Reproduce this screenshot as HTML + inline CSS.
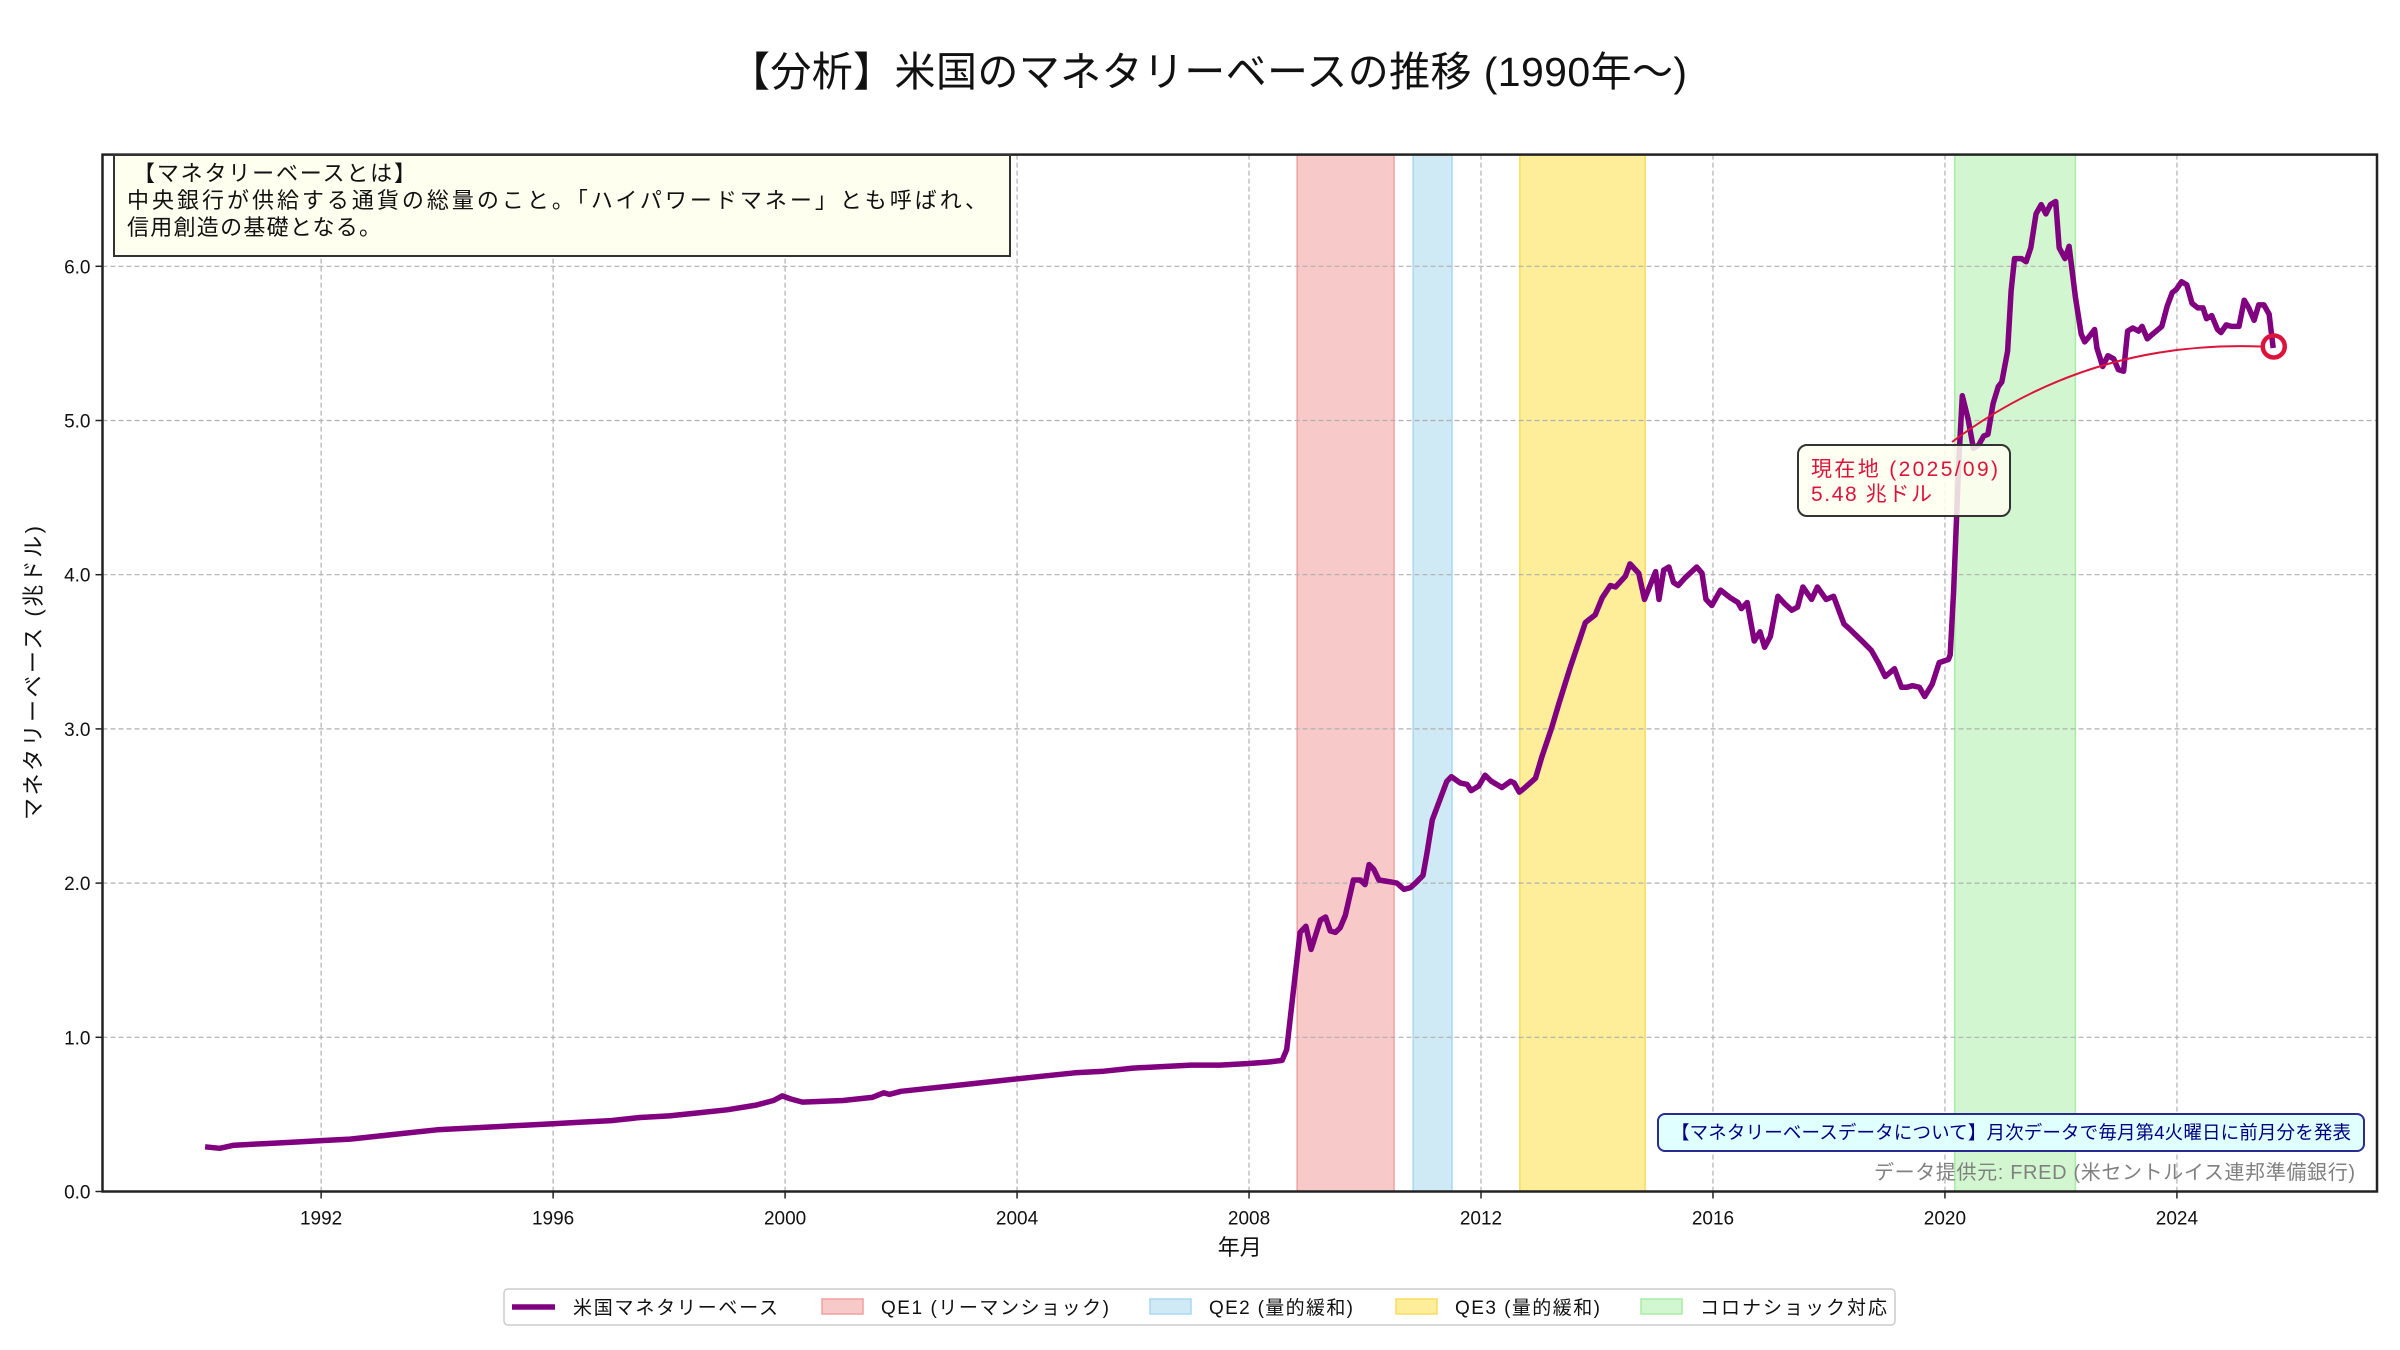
<!DOCTYPE html>
<html lang="ja">
<head>
<meta charset="utf-8">
<style>
html,body{margin:0;padding:0;background:#fff;}
svg{display:block;font-family:"Liberation Sans","Noto Sans CJK JP",sans-serif;}
</style>
</head>
<body>
<svg id="chart" width="2400" height="1350" viewBox="0 0 2400 1350" xmlns="http://www.w3.org/2000/svg">
  <rect x="0" y="0" width="2400" height="1350" fill="#fff"/>
  <text x="1208" y="86" text-anchor="middle" font-size="41" fill="#111" textLength="958">【分析】米国のマネタリーベースの推移 (1990年〜)</text>
  <g id="bands"></g>
  <g id="grid"></g>
  <g id="series"></g>
  <g id="axes"></g>
  <g id="annot"></g>
</svg>
<script>
// ---- data ----
const years = [1990.0,1990.25,1990.5,1991.0,1991.5,1992.0,1992.5,1993.0,1993.5,1994.0,1994.5,1995.0,1995.5,1996.0,1996.5,1997.0,1997.5,1998.0,1998.5,1999.0,1999.5,1999.8,1999.95,2000.1,2000.3,2001.0,2001.5,2001.7,2001.8,2002.0,2002.5,2003.0,2003.5,2004.0,2004.5,2005.0,2005.5,2006.0,2006.5,2007.0,2007.5,2008.0,2008.34,2008.57,2008.65,2008.77,2008.88,2008.98,2009.07,2009.23,2009.32,2009.40,2009.49,2009.57,2009.66,2009.80,2009.92,2010.0,2010.07,2010.15,2010.24,2010.41,2010.55,2010.67,2010.78,2010.87,2011.0,2011.07,2011.16,2011.27,2011.41,2011.49,2011.64,2011.76,2011.83,2011.96,2012.07,2012.18,2012.36,2012.51,2012.57,2012.66,2012.76,2012.94,2013.05,2013.22,2013.34,2013.54,2013.80,2013.97,2014.09,2014.23,2014.32,2014.49,2014.57,2014.72,2014.82,2015.01,2015.07,2015.15,2015.24,2015.32,2015.40,2015.52,2015.72,2015.81,2015.88,2015.98,2016.13,2016.30,2016.43,2016.49,2016.59,2016.71,2016.81,2016.89,2016.99,2017.12,2017.24,2017.36,2017.46,2017.55,2017.70,2017.80,2017.95,2018.08,2018.26,2018.35,2018.57,2018.73,2018.85,2018.97,2019.13,2019.25,2019.34,2019.44,2019.56,2019.65,2019.78,2019.90,2020.06,2020.09,2020.15,2020.24,2020.30,2020.40,2020.49,2020.58,2020.67,2020.74,2020.83,2020.92,2020.98,2021.08,2021.14,2021.20,2021.32,2021.40,2021.48,2021.57,2021.66,2021.74,2021.82,2021.91,2021.97,2022.07,2022.14,2022.25,2022.35,2022.41,2022.50,2022.58,2022.62,2022.72,2022.81,2022.91,2022.99,2023.08,2023.15,2023.24,2023.34,2023.40,2023.49,2023.58,2023.74,2023.83,2023.92,2023.99,2024.08,2024.17,2024.26,2024.36,2024.45,2024.51,2024.60,2024.70,2024.76,2024.85,2024.94,2025.07,2025.16,2025.24,2025.33,2025.41,2025.50,2025.59,2025.66];
const values = [0.29,0.28,0.30,0.31,0.32,0.33,0.34,0.36,0.38,0.40,0.41,0.42,0.43,0.44,0.45,0.46,0.48,0.49,0.51,0.53,0.56,0.59,0.62,0.60,0.58,0.59,0.61,0.64,0.63,0.65,0.67,0.69,0.71,0.73,0.75,0.77,0.78,0.80,0.81,0.82,0.82,0.83,0.84,0.85,0.92,1.32,1.68,1.72,1.57,1.76,1.78,1.69,1.68,1.71,1.79,2.02,2.02,1.99,2.12,2.09,2.02,2.01,2.00,1.96,1.97,2.00,2.05,2.20,2.41,2.52,2.66,2.69,2.65,2.64,2.60,2.63,2.70,2.66,2.62,2.66,2.65,2.59,2.62,2.68,2.82,3.01,3.16,3.40,3.69,3.74,3.85,3.93,3.92,3.99,4.07,4.01,3.84,4.02,3.84,4.03,4.05,3.95,3.93,3.98,4.05,4.01,3.84,3.80,3.90,3.85,3.82,3.78,3.82,3.57,3.63,3.53,3.60,3.86,3.81,3.77,3.79,3.92,3.84,3.92,3.84,3.86,3.68,3.65,3.57,3.51,3.43,3.34,3.39,3.27,3.27,3.28,3.27,3.21,3.29,3.43,3.45,3.48,3.89,4.75,5.16,5.01,4.82,4.84,4.90,4.91,5.11,5.22,5.25,5.45,5.84,6.05,6.05,6.03,6.12,6.34,6.40,6.34,6.40,6.42,6.12,6.05,6.13,5.80,5.56,5.51,5.55,5.59,5.47,5.35,5.42,5.40,5.33,5.32,5.58,5.60,5.58,5.61,5.53,5.56,5.61,5.74,5.83,5.85,5.90,5.88,5.76,5.73,5.73,5.66,5.68,5.59,5.57,5.62,5.61,5.61,5.78,5.73,5.65,5.75,5.75,5.69,5.47];
const bandNames = ["QE1 (リーマンショック)","QE2 (量的緩和)","QE3 (量的緩和)","コロナショック対応"];
const bandStart = [2008.83,2010.83,2012.67,2020.17];
const bandEnd = [2010.5,2011.5,2014.83,2022.25];
const xTicks = [1992,1996,2000,2004,2008,2012,2016,2020,2024];
const yTicks = [0,1,2,3,4,5,6];
const yTickLabels = ["0.0","1.0","2.0","3.0","4.0","5.0","6.0"];
const currentYear = 2025.67;
const currentValue = 5.48;

// ---- layout ----
const L=102.5,R=2377,T=154.6,B=1191.5;
const X0=1988.23,X1=2027.45;
const x = yr => L + (yr-X0)/(X1-X0)*(R-L);
const y = v => B - v*154.2;
const NS="http://www.w3.org/2000/svg";
function mk(tag, attrs, parent){const e=document.createElementNS(NS,tag);for(const k in attrs)e.setAttribute(k,attrs[k]);parent.appendChild(e);return e;}
const bandFill=["#f7c9c9","#cfe9f5","#feee99","#d2f7d0"];
const bandEdge=["#f0a0a0","#a8d8f0","#f8dc60","#a8eca4"];

const gB=document.getElementById('bands');
for(let i=0;i<bandStart.length;i++){
  const r=mk('rect',{x:x(bandStart[i]),y:T,width:x(bandEnd[i])-x(bandStart[i]),height:B-T,fill:bandFill[i],stroke:bandEdge[i],'stroke-width':1.5},gB);
  
  
}
const gG=document.getElementById('grid');
xTicks.forEach(t=>{
  const l=mk('line',{x1:x(t),x2:x(t),y1:T,y2:B,stroke:'#b0b0b0','stroke-width':1.2,'stroke-dasharray':'5,3'},gG);
  
  
});
yTicks.forEach(t=>{
  const l=mk('line',{x1:L,x2:R,y1:y(t),y2:y(t),stroke:'#b0b0b0','stroke-width':1.2,'stroke-dasharray':'5,3'},gG);
  
  
});
const gS=document.getElementById('series');
const pts=years.map((yr,i)=>x(yr).toFixed(1)+','+y(values[i]).toFixed(1)).join(' ');
const pl=mk('polyline',{points:pts,fill:'none',stroke:'#800080','stroke-width':5.5,'stroke-linejoin':'round'},gS);



const gA=document.getElementById('axes');
const frame=mk('rect',{x:L,y:T,width:R-L,height:B-T,fill:'none',stroke:'#222','stroke-width':2.5},gA);


xTicks.forEach(t=>{
  mk('line',{x1:x(t),x2:x(t),y1:B,y2:B+7,stroke:'#222','stroke-width':1.5},gA);
  const tx=mk('text',{x:x(t),y:B+33,'text-anchor':'middle','font-size':19,fill:'#111'},gA);
  tx.textContent=t;
  
  
});
yTicks.forEach((t,i)=>{
  mk('line',{x1:L-7,x2:L,y1:y(t),y2:y(t),stroke:'#222','stroke-width':1.5},gA);
  const tx=mk('text',{x:L-12,y:y(t)+7,'text-anchor':'end','font-size':19,fill:'#111'},gA);
  tx.textContent=yTickLabels[i];
  
  
});
const xl=mk('text',{x:(L+R)/2,y:1255,'text-anchor':'middle','font-size':22,fill:'#111'},gA);
xl.textContent='年月';


const yl=mk('text',{x:0,y:0,'text-anchor':'middle','font-size':22,fill:'#111',textLength:294,transform:'translate(41,673) rotate(-90)'},gA);
yl.textContent='マネタリーベース (兆ドル)';



// annotations
const gN=document.getElementById('annot');
const cx=x(currentYear), cy=y(currentValue);
const arrow=mk('path',{d:`M1952,442 Q2088,340 ${cx-13},${cy}`,fill:'none',stroke:'#dc143c','stroke-width':2},gN);


const circ=mk('circle',{cx:cx,cy:cy,r:11,fill:'none',stroke:'#dc143c','stroke-width':4.5},gN);


const ab=mk('rect',{x:1798,y:445,width:212,height:71,rx:9,fill:'#fffff0','fill-opacity':0.85,stroke:'#333','stroke-width':2},gN);


const at1=mk('text',{x:1811,y:476,'font-size':21,fill:'#dc143c',textLength:187},gN);
at1.textContent='現在地 (2025/09)';


const at2=mk('text',{x:1811,y:501,'font-size':21,fill:'#dc143c',textLength:121},gN);
at2.textContent=currentValue.toFixed(2)+' 兆ドル';



// info box
const ib=mk('rect',{x:114,y:155,width:896,height:101,fill:'#fffff0',stroke:'#333','stroke-width':2},gN);


const il=['【マネタリーベースとは】','中央銀行が供給する通貨の総量のこと。「ハイパワードマネー」とも呼ばれ、','信用創造の基礎となる。'];
const ilX=[133,127,127];
const ilW=[283,860,254];
il.forEach((s,i)=>{
  const t=mk('text',{x:ilX[i],y:181+i*27,'font-size':22,fill:'#111',textLength:ilW[i]},gN);
  t.textContent=s;
  
  
});
// note box
const nb=mk('rect',{x:1658,y:1114,width:706,height:37,rx:7,fill:'#e0ffff',stroke:'#2a2a90','stroke-width':2},gN);


const nt=mk('text',{x:2011,y:1139,'text-anchor':'middle','font-size':18.5,fill:'#000080',textLength:680},gN);
nt.textContent='【マネタリーベースデータについて】月次データで毎月第4火曜日に前月分を発表';


const src=mk('text',{x:2355,y:1179,'text-anchor':'end','font-size':20,fill:'#808080',textLength:481},gN);
src.textContent='データ提供元: FRED (米セントルイス連邦準備銀行)';



// legend
const lg=mk('g',{},gN);


mk('rect',{x:504,y:1289,width:1391,height:36,rx:4,fill:'#fff',stroke:'#ccc','stroke-width':1.5},lg);
const le=mk('line',{x1:512,x2:555,y1:1307,y2:1307,stroke:'#800080','stroke-width':5.5},lg);


const lt=mk('text',{x:573,y:1314,'font-size':19,fill:'#111',textLength:205},lg);
lt.textContent='米国マネタリーベース';


const patchX=[822,1150,1396,1641];
const legW=[228,144,145,187];
bandNames.forEach((n,i)=>{
  const p=mk('rect',{x:patchX[i],y:1299,width:41,height:15,fill:bandFill[i],stroke:bandEdge[i],'stroke-width':1.5},lg);
  
  
  const t=mk('text',{x:patchX[i]+59,y:1314,'font-size':19,fill:'#111',textLength:legW[i]},lg);
  t.textContent=n;
  
  
});
</script>
</body>
</html>
